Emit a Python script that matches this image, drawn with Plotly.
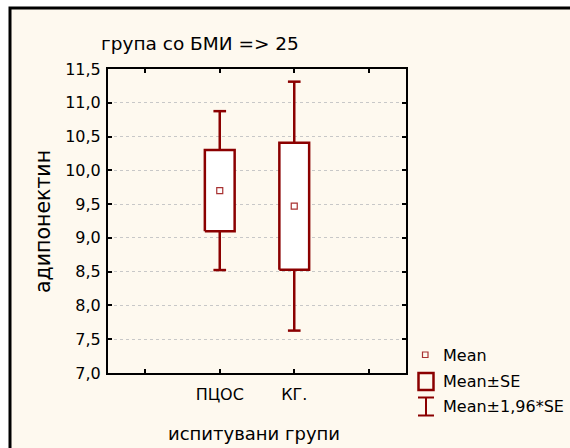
import plotly.graph_objects as go

# Group means and standard errors of adiponectin
groups = ["ПЦОС", "КГ."]
means = [9.70, 9.47]
ses = [0.60, 0.94]
ci_factor = 1.96

y_ticks = [7.0, 7.5, 8.0, 8.5, 9.0, 9.5, 10.0, 10.5, 11.0, 11.5]
y_labels = ["7,0", "7,5", "8,0", "8,5", "9,0", "9,5", "10,0", "10,5", "11,0", "11,5"]
x_ticks = [-1, 0, 1, 2]
x_labels = ["", "ПЦОС", "КГ.", ""]

DARK = "#8b0000"
MEAN_C = "#a83232"
CREAM = "#fef9ef"
FONT = "DejaVu Sans, sans-serif"

W, H = 570, 448
L, R, T, B = 108, 406, 69, 373
PW, PH = R - L, B - T


def px(x):
    return (x - L) / PW


def py(y):
    return 1 - (y - T) / PH


box_half = 0.2
cap_half = 0.085

fig = go.Figure()

# whiskers: mean ± 1.96*SE with caps
wx, wy = [], []
for i, (m, s) in enumerate(zip(means, ses)):
    lo, hi = m - ci_factor * s, m + ci_factor * s
    wx += [i, i, None, i - cap_half, i + cap_half, None, i - cap_half, i + cap_half, None]
    wy += [lo, hi, None, lo, lo, None, hi, hi, None]
fig.add_trace(go.Scatter(x=wx, y=wy, mode="lines",
                         line=dict(color=DARK, width=2.5), hoverinfo="skip"))

# boxes: mean ± SE
for i, (m, s) in enumerate(zip(means, ses)):
    lo, hi = m - s, m + s
    fig.add_trace(go.Scatter(
        x=[i - box_half, i + box_half, i + box_half, i - box_half, i - box_half],
        y=[lo, lo, hi, hi, lo], mode="lines", fill="toself", fillcolor="white",
        line=dict(color=DARK, width=2.5), hoverinfo="skip"))

# means
fig.add_trace(go.Scatter(x=list(range(len(groups))), y=means, mode="markers",
                         marker=dict(symbol="square-open", size=6, color=MEAN_C,
                                     line=dict(width=1.2, color=MEAN_C))))

shapes = [
    # outer frame
    dict(type="rect", xref="paper", yref="paper", x0=px(10), y0=py(8), x1=px(620), y1=py(500),
         fillcolor=CREAM, line=dict(color="black", width=3), layer="below"),
    # legend: SE box
    dict(type="rect", xref="paper", yref="paper", x0=px(418.5), x1=px(433.5), y0=py(373), y1=py(390),
         line=dict(color=DARK, width=2.5), fillcolor="rgba(0,0,0,0)"),
    # legend: CI I-beam
    dict(type="line", xref="paper", yref="paper", x0=px(426), x1=px(426), y0=py(397.5), y1=py(415.5),
         line=dict(color=DARK, width=2)),
    dict(type="line", xref="paper", yref="paper", x0=px(418), x1=px(434), y0=py(397.5), y1=py(397.5),
         line=dict(color=DARK, width=2)),
    dict(type="line", xref="paper", yref="paper", x0=px(418), x1=px(434), y0=py(415.5), y1=py(415.5),
         line=dict(color=DARK, width=2)),
    # legend: mean marker
    dict(type="rect", xref="paper", yref="paper", x0=px(422.5), x1=px(428), y0=py(352), y1=py(357.5),
         line=dict(color=MEAN_C, width=1.2), fillcolor="rgba(0,0,0,0)"),
]

legend_items = [("Mean", 355), ("Mean±SE", 381), ("Mean±1,96*SE", 406)]
annotations = [
    dict(text="група со БМИ => 25", x=px(99), y=py(44), xref="paper", yref="paper",
         xanchor="left", yanchor="middle", showarrow=False,
         font=dict(family=FONT, size=18.5, color="black")),
    dict(text="адипонектин", x=px(43), y=py(222), xref="paper", yref="paper",
         textangle=-90, xanchor="center", yanchor="middle", showarrow=False,
         font=dict(family=FONT, size=20.5, color="black")),
    dict(text="испитувани групи", x=px(254), y=py(433), xref="paper", yref="paper",
         xanchor="center", yanchor="middle", showarrow=False,
         font=dict(family=FONT, size=18, color="black")),
]
for label, yc in legend_items:
    annotations.append(dict(text=label, x=px(441), y=py(yc), xref="paper", yref="paper",
                            xanchor="left", yanchor="middle", showarrow=False,
                            font=dict(family=FONT, size=16, color="black")))

fig.update_layout(
    width=W, height=H,
    margin=dict(l=L, r=W - R, t=T, b=H - B, pad=0),
    paper_bgcolor="white", plot_bgcolor="white",
    showlegend=False,
    shapes=shapes, annotations=annotations,
    font=dict(family=FONT, size=16, color="black"),
)
fig.update_xaxes(range=[-1.5, 2.5], tickvals=x_ticks, ticktext=x_labels,
                 ticks="inside", ticklen=4, tickwidth=1.5, tickcolor="black",
                 showline=True, linewidth=2, linecolor="black", mirror="allticks",
                 showgrid=False, zeroline=False, fixedrange=True, ticklabelstandoff=6,
                 tickfont=dict(family=FONT, size=16))
fig.update_yaxes(range=[7.0, 11.5], tickvals=y_ticks, ticktext=y_labels,
                 ticks="inside", ticklen=4, tickwidth=1.5, tickcolor="black",
                 showline=True, linewidth=2, linecolor="black", mirror="allticks",
                 showgrid=True, gridcolor="#c8c8c8", griddash="dot", gridwidth=1,
                 zeroline=False, fixedrange=True, ticklabelstandoff=2,
                 tickfont=dict(family=FONT, size=16))

fig.write_html("out.html")
